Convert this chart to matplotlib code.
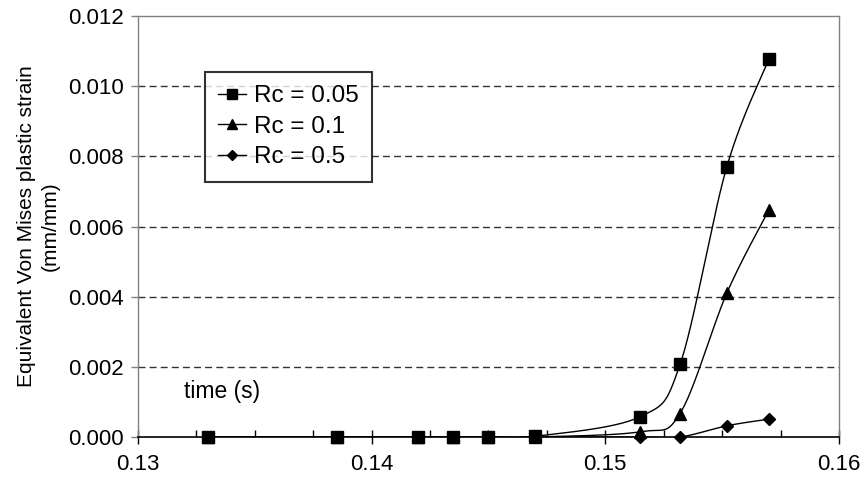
import numpy as np
import matplotlib.pyplot as plt
from matplotlib.lines import Line2D
from matplotlib.ticker import MultipleLocator, FormatStrFormatter

plt.rcParams['font.family'] = ['Liberation Sans', 'DejaVu Sans']

# time (s)
t = [0.133, 0.1385, 0.142, 0.1435, 0.145, 0.147, 0.1515, 0.1532, 0.1552, 0.157]
# equivalent Von Mises plastic strain (mm/mm)
rc_005 = [0, 0, 0, 0, 0, 0.00002, 0.00058, 0.00207, 0.0077, 0.01077]
rc_01 = [0, 0, 0, 0, 0, 0, 0.00015, 0.00067, 0.0041, 0.00647]
rc_05 = [0, 0, 0, 0, 0, 0, 0.0, 0.0, 0.00032, 0.00051]

labels = ['Rc = 0.05', 'Rc = 0.1', 'Rc = 0.5']
markers = ['s', '^', 'D']
sizes = [8, 8, 6.5]


def smooth(x, y, n=30):
    # Excel-like smoothed line (Catmull-Rom bezier)
    x = np.asarray(x, float)
    y = np.asarray(y, float)
    px = np.concatenate([[x[0]], x, [x[-1]]])
    py = np.concatenate([[y[0]], y, [y[-1]]])
    s = np.linspace(0, 1, n)
    xs, ys = [], []
    for i in range(1, len(px) - 2):
        p0 = np.array([px[i], py[i]])
        p3 = np.array([px[i + 1], py[i + 1]])
        c1 = p0 + (np.array([px[i + 1], py[i + 1]]) - np.array([px[i - 1], py[i - 1]])) / 6
        c2 = p3 - (np.array([px[i + 2], py[i + 2]]) - np.array([px[i], py[i]])) / 6
        b = ((1 - s) ** 3)[:, None] * p0 + (3 * (1 - s) ** 2 * s)[:, None] * c1 \
            + (3 * (1 - s) * s ** 2)[:, None] * c2 + (s ** 3)[:, None] * p3
        xs.extend(b[:, 0])
        ys.extend(b[:, 1])
    return xs, ys


fig = plt.figure(figsize=(8.64, 4.83), dpi=100)
ax = fig.add_axes([0.1597, 0.0952, 0.8113, 0.8716])

series = [rc_005, rc_01, rc_05]
for k in [2, 1, 0]:
    sx, sy = smooth(t, series[k])
    ax.plot(sx, sy, color='black', lw=1, zorder=3)
    ax.plot(t, series[k], ls='none', marker=markers[k], ms=sizes[k],
            color='black', zorder=4 + (2 - k), clip_on=False)

ax.set_xlim(0.13, 0.16)
ax.set_ylim(0, 0.012)
ax.xaxis.set_major_locator(MultipleLocator(0.01))
ax.xaxis.set_minor_locator(MultipleLocator(0.0025))
ax.yaxis.set_major_locator(MultipleLocator(0.002))
ax.xaxis.set_major_formatter(FormatStrFormatter('%.2f'))
ax.yaxis.set_major_formatter(FormatStrFormatter('%.3f'))

for yv in [0.002, 0.004, 0.006, 0.008, 0.010]:
    ax.axhline(yv, color='#333333', lw=1, ls=(0, (5, 3)), zorder=1)

for s in ['left', 'right', 'top']:
    ax.spines[s].set_color('#808080')
    ax.spines[s].set_linewidth(1)
ax.spines['bottom'].set_color('black')
ax.spines['bottom'].set_linewidth(1.2)

ax.tick_params(axis='both', labelsize=16, colors='black')
ax.tick_params(axis='x', which='major', direction='inout', length=10, width=1, pad=7)
ax.tick_params(axis='x', which='minor', direction='in', length=5, width=1)
ax.tick_params(axis='y', which='major', direction='out', length=5, width=1, color='#808080',
               labelcolor='black', pad=5)

ax.set_ylabel('Equivalent Von Mises plastic strain\n(mm/mm)', fontsize=15, labelpad=6,
              linespacing=1.35)
ax.text(0.066, 0.107, 'time (s)', transform=ax.transAxes, fontsize=16.5, va='center')

handles = [Line2D([], [], color='black', lw=1, marker=markers[k], ms=sizes[k] * 0.85)
           for k in range(3)]
leg = ax.legend(handles, labels, loc='upper left', bbox_to_anchor=(0.0956, 0.867),
                fontsize=17.5, frameon=True, fancybox=False, handlelength=1.15,
                handletextpad=0.3, labelspacing=0.35, borderpad=0.55,
                borderaxespad=0)
leg.get_frame().set_edgecolor('black')
leg.get_frame().set_linewidth(1.5)
leg.set_zorder(10)

fig.savefig('out.png', dpi=100)
